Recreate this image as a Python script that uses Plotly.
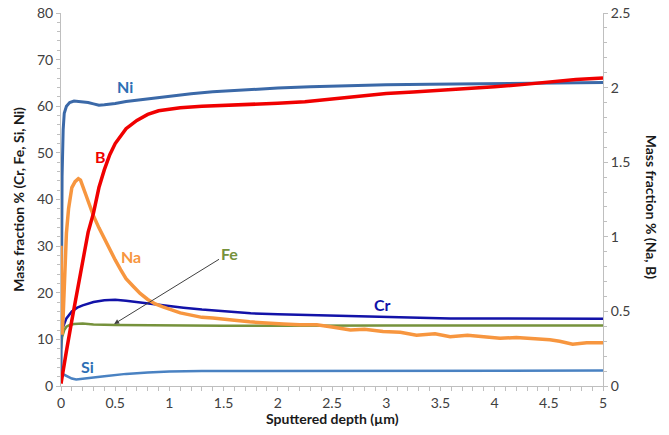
import plotly.graph_objects as go

# ---------------- data ----------------
# Left axis: mass fraction % of Cr, Fe, Si, Ni
ni_x = [0, 0.005, 0.01, 0.02, 0.03, 0.05, 0.08, 0.12, 0.16, 0.2, 0.25, 0.3, 0.35, 0.4, 0.45, 0.5,
        0.6, 0.7, 0.8, 0.9, 1.0, 1.2, 1.4, 1.6, 1.8, 2.0, 2.3, 2.6, 3.0, 3.4, 3.8, 4.2, 4.6, 5.0]
ni_y = [2, 30, 45, 55, 58.5, 60, 60.8, 61.1, 61, 61.0, 60.8, 60.5, 60.2, 60.3, 60.4, 60.6,
        61, 61.3, 61.6, 61.9, 62.2, 62.7, 63.1, 63.4, 63.7, 63.9, 64.2, 64.4, 64.6, 64.7, 64.8, 64.9, 65, 65.1]

cr_x = [0, 0.02, 0.05, 0.1, 0.15, 0.2, 0.3, 0.4, 0.5, 0.6, 0.7, 0.8, 0.9, 1.0, 1.13, 1.3, 1.45,
        1.6, 1.75, 2.0, 2.36, 2.7, 3.13, 3.59, 4.0, 4.5, 5.0]
cr_y = [11.5, 12.8, 14.5, 16, 16.8, 17.3, 18, 18.4, 18.5, 18.3, 18.0, 17.8, 17.5, 17.2, 16.8, 16.4, 16.1,
        15.8, 15.6, 15.4, 15.2, 14.9, 14.7, 14.5, 14.5, 14.4, 14.4]

fe_x = [0, 0.01, 0.03, 0.05, 0.08, 0.12, 0.2, 0.3, 0.5, 0.8, 1.0, 1.5, 2.0, 2.5, 3.0, 3.5, 4.0, 4.5, 5.0]
fe_y = [8, 10.5, 12, 12.7, 13.1, 13.3, 13.4, 13.2, 13.1, 13, 13, 12.9, 12.9, 13, 13, 13, 13, 13, 13]

si_x = [0, 0.01, 0.03, 0.06, 0.1, 0.14, 0.2, 0.3, 0.4, 0.5, 0.6, 0.8, 1.0, 1.3, 1.6, 2.0, 2.5,
        3.0, 3.5, 4.0, 4.5, 5.0]
si_y = [1, 2.5, 2.4, 2.0, 1.6, 1.4, 1.5, 1.8, 2.1, 2.4, 2.6, 2.9, 3.1, 3.2, 3.2, 3.2, 3.3,
        3.3, 3.3, 3.3, 3.3, 3.3]

# Right axis: mass fraction % of Na, B
b_x = [0, 0.02, 0.05, 0.1, 0.15, 0.2, 0.25, 0.3, 0.35, 0.4, 0.45, 0.5, 0.55, 0.6, 0.7, 0.8, 0.9,
       1.0, 1.1, 1.3, 1.5, 1.75, 2.0, 2.25, 2.5, 2.75, 3.0, 3.25, 3.5, 3.75, 4.0, 4.25, 4.5, 4.75, 5.0]
b_y = [0.016, 0.094, 0.234, 0.44, 0.64, 0.84, 1.03, 1.16, 1.33, 1.45, 1.55, 1.625, 1.68, 1.725, 1.78,
       1.82, 1.845, 1.855, 1.865, 1.875, 1.88, 1.885, 1.895, 1.905, 1.925, 1.94, 1.96, 1.97, 1.98,
       1.995, 2.005, 2.02, 2.04, 2.055, 2.065]

na_x = [0, 0.005, 0.01, 0.02, 0.03, 0.05, 0.07, 0.1, 0.13, 0.16, 0.18, 0.2, 0.23, 0.26, 0.3, 0.35,
        0.4, 0.45, 0.5, 0.55, 0.6, 0.67, 0.73, 0.8, 0.87, 0.94, 1.0, 1.1, 1.2, 1.3, 1.4, 1.5, 1.6,
        1.74, 1.9, 2.05, 2.2, 2.36, 2.5, 2.67, 2.8, 2.97, 3.13, 3.28, 3.45, 3.59, 3.75, 3.9, 4.05,
        4.2, 4.35, 4.51, 4.6, 4.72, 4.85, 4.97, 5.0]
na_y = [0.94, 0.375, 0.344, 0.47, 0.69, 1.025, 1.19, 1.33, 1.37, 1.39, 1.38, 1.345, 1.28, 1.22, 1.14,
        1.06, 0.985, 0.92, 0.845, 0.78, 0.72, 0.665, 0.62, 0.58, 0.55, 0.53, 0.515, 0.49, 0.475,
        0.46, 0.455, 0.445, 0.44, 0.43, 0.42, 0.415, 0.41, 0.41, 0.395, 0.375, 0.38, 0.365, 0.36,
        0.34, 0.35, 0.33, 0.34, 0.33, 0.32, 0.325, 0.32, 0.31, 0.30, 0.28, 0.29, 0.29, 0.29]

left_ticks = [0, 10, 20, 30, 40, 50, 60, 70, 80]
right_ticks = [0, 0.5, 1, 1.5, 2, 2.5]
right_labels = ["0", "0.5", "1", "1.5", "2", "2.5"]
x_ticks = [0, 0.5, 1, 1.5, 2, 2.5, 3, 3.5, 4, 4.5, 5]

# ---------------- figure ----------------
FONT = "Lato, 'Open Sans', sans-serif"
C_NI = "#3b69a8"
C_SI = "#4a82c2"
C_CR = "#1212a8"
C_FE = "#76923c"
C_NA = "#f7963f"
C_B = "#f00000"

fig = go.Figure()
fig.add_trace(go.Scatter(x=si_x, y=si_y, mode="lines", line=dict(color=C_SI, width=2.5), yaxis="y"))
fig.add_trace(go.Scatter(x=fe_x, y=fe_y, mode="lines", line=dict(color=C_FE, width=2.5), yaxis="y"))
fig.add_trace(go.Scatter(x=cr_x, y=cr_y, mode="lines", line=dict(color=C_CR, width=2.5), yaxis="y"))
fig.add_trace(go.Scatter(x=ni_x, y=ni_y, mode="lines", line=dict(color=C_NI, width=3), yaxis="y"))
fig.add_trace(go.Scatter(x=na_x, y=na_y, mode="lines", line=dict(color=C_NA, width=3.5), yaxis="y2"))
fig.add_trace(go.Scatter(x=b_x, y=b_y, mode="lines", line=dict(color=C_B, width=3.5), yaxis="y2"))

tickfont = dict(family=FONT, size=14, color="#404040")
axis_line = "#bfbfbf"

fig.update_layout(
    width=669, height=435,
    margin=dict(l=61, r=66, t=13, b=49, autoexpand=False),
    paper_bgcolor="white", plot_bgcolor="white",
    showlegend=False,
    font=dict(family=FONT),
    xaxis=dict(range=[0, 5], tickvals=x_ticks, ticktext=[str(v) for v in x_ticks], automargin=False,
               showgrid=False, zeroline=False, showline=True, linecolor=axis_line, linewidth=1,
               ticks="outside", ticklen=4, tickcolor=axis_line, tickfont=tickfont,
               minor=dict(dtick=0.1, ticks="outside", ticklen=4, tickcolor=axis_line)),
    yaxis=dict(range=[0, 80], tickvals=left_ticks, showgrid=False, zeroline=False, automargin=False,
               showline=True, linecolor=axis_line, linewidth=1,
               ticks="outside", ticklen=4, tickcolor=axis_line, tickfont=tickfont,
               minor=dict(dtick=2, ticks="outside", ticklen=3, tickcolor=axis_line)),
    yaxis2=dict(range=[0, 2.5], tickvals=right_ticks, ticktext=right_labels, automargin=False,
                overlaying="y", side="right", showgrid=False, zeroline=False,
                showline=True, linecolor=axis_line, linewidth=1,
                ticks="outside", ticklen=4, tickcolor=axis_line, tickfont=tickfont,
                minor=dict(dtick=0.1, ticks="outside", ticklen=3, tickcolor=axis_line)),
)

title_font = dict(family=FONT, size=14, color="#1a1a1a")
annos = [
    dict(text="<b>Sputtered depth (µm)</b>", xref="paper", yref="paper", x=0.5, y=-0.086,
         showarrow=False, font=title_font, xanchor="center", yanchor="middle"),
    dict(text="<b>Mass fraction % (Cr, Fe, Si, Ni)</b>", xref="paper", yref="paper", x=-0.079, y=0.5,
         textangle=-90, showarrow=False, font=title_font, xanchor="center", yanchor="middle"),
    dict(text="<b>Mass fraction % (Na, B)</b>", xref="paper", yref="paper", x=1.089, y=0.48,
         textangle=90, showarrow=False, font=title_font, xanchor="center", yanchor="middle"),
]


def lab(t, x, y, c):
    return dict(text=f"<b>{t}</b>", x=x, y=y, xref="x", yref="y", showarrow=False,
                font=dict(family=FONT, size=16, color=c))


annos += [
    lab("Ni", 0.59, 64.3, "#2e6fb5"),
    lab("B", 0.36, 49.2, C_B),
    lab("Na", 0.65, 27.7, C_NA),
    lab("Cr", 2.97, 17.4, C_CR),
    lab("Si", 0.24, 4.1, "#2e6fb5"),
    dict(text="<b>Fe</b>", x=0.49, y=13.3, xref="x", yref="y", showarrow=True,
         ax=1.55, ay=28.5, axref="x", ayref="y", arrowhead=2, arrowsize=1, arrowwidth=1,
         arrowcolor="#404040", font=dict(family=FONT, size=16, color=C_FE), standoff=0),
]
fig.update_layout(annotations=annos)

fig.write_html("out.html", config={"displayModeBar": False},
               post_script="document.body.style.margin='0';document.body.style.overflow='hidden';")
